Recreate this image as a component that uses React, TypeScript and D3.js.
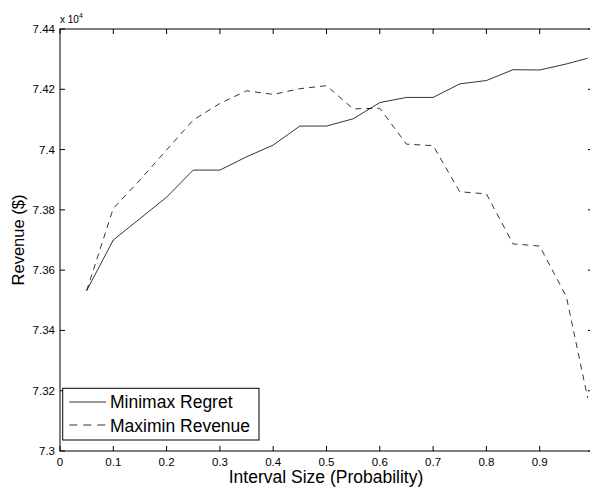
import React from "react";
import * as d3 from "d3";

const intervalSizes = [0.05, 0.1, 0.15, 0.2, 0.25, 0.3, 0.35, 0.4, 0.45, 0.5, 0.55, 0.6, 0.65, 0.7, 0.75, 0.8, 0.85, 0.9, 0.95, 0.99];
const minimaxRegret = [7.3532, 7.37, 7.3771, 7.3842, 7.3932, 7.3932, 7.3976, 7.4015, 7.4078, 7.4078, 7.4102, 7.4156, 7.4173, 7.4173, 7.4218, 7.4229, 7.4265, 7.4264, 7.4284, 7.4303];
const maximinRevenue = [7.3532, 7.3805, 7.3899, 7.3999, 7.4098, 7.4153, 7.4195, 7.4183, 7.4202, 7.4212, 7.4135, 7.4137, 7.4018, 7.4013, 7.386, 7.3853, 7.3687, 7.368, 7.3512, 7.3176];
const xTicks = [0, 0.1, 0.2, 0.3, 0.4, 0.5, 0.6, 0.7, 0.8, 0.9, 1];
const yTicks = [7.3, 7.32, 7.34, 7.36, 7.38, 7.4, 7.42, 7.44];
const seriesNames = ["Minimax Regret", "Maximin Revenue"];

const W = 590, H = 489;
const L = 60, R = 593, T = 29, B = 451;
const FONT = "'Liberation Sans', Arial, Helvetica, sans-serif";

export default function App() {
  const x = d3.scaleLinear().domain([0, 1]).range([L, R]);
  const y = d3.scaleLinear().domain([7.3, 7.44]).range([B, T]);
  const line = d3.line<number>().x((_, i) => x(intervalSizes[i])).y((d) => y(d));
  const fmt = (v: number) => String(+v.toFixed(2));
  const tickLen = 5;
  return (
    <svg width={W} height={H} style={{ position: "absolute", left: 0, top: 0, background: "#fff" }} fontFamily={FONT}>
      <rect x={0} y={0} width={W} height={H} fill="#fff" />
      <path d={line(minimaxRegret) || ""} fill="none" stroke="#000" strokeWidth={0.8} />
      <path d={line(maximinRevenue) || ""} fill="none" stroke="#000" strokeWidth={0.8} strokeDasharray="6,5" />
      <rect x={L} y={T} width={R - L} height={B - T} fill="none" stroke="#000" strokeWidth={1} />
      {xTicks.map((t) => (
        <g key={"x" + t}>
          <line x1={x(t)} x2={x(t)} y1={B} y2={B - tickLen} stroke="#000" strokeWidth={1} />
          <line x1={x(t)} x2={x(t)} y1={T} y2={T + tickLen} stroke="#000" strokeWidth={1} />
          {x(t) < W - 8 && (
            <text x={x(t)} y={466} fontSize={11.5} textAnchor="middle" fill="#000">{fmt(t)}</text>
          )}
        </g>
      ))}
      {yTicks.map((t) => (
        <g key={"y" + t}>
          <line x1={L} x2={L + tickLen} y1={y(t)} y2={y(t)} stroke="#000" strokeWidth={1} />
          <line x1={R} x2={R - tickLen} y1={y(t)} y2={y(t)} stroke="#000" strokeWidth={1} />
          <text x={55} y={y(t) + 4} fontSize={11.5} textAnchor="end" fill="#000">{fmt(t)}</text>
        </g>
      ))}
      <text x={60} y={23} fontSize={10} fill="#000">x 10<tspan fontSize={7} dy={-5}>4</tspan></text>
      <text x={(L + 590) / 2 + 1} y={483} fontSize={17.5} textAnchor="middle" fill="#000">Interval Size (Probability)</text>
      <text transform={`translate(24, ${(T + B) / 2}) rotate(-90)`} fontSize={16.5} textAnchor="middle" fill="#000">Revenue ($)</text>
      <rect x={62.7} y={388.3} width={196.3} height={51.7} fill="#fff" stroke="#000" strokeWidth={1} />
      <line x1={69.3} x2={106} y1={402} y2={402} stroke="#000" strokeWidth={0.8} />
      <line x1={69.3} x2={106} y1={425} y2={425} stroke="#000" strokeWidth={0.8} strokeDasharray="8,6" />
      <text x={110} y={408} fontSize={17.5} fill="#000">{seriesNames[0]}</text>
      <text x={110} y={431.5} fontSize={17.5} fill="#000">{seriesNames[1]}</text>
    </svg>
  );
}
